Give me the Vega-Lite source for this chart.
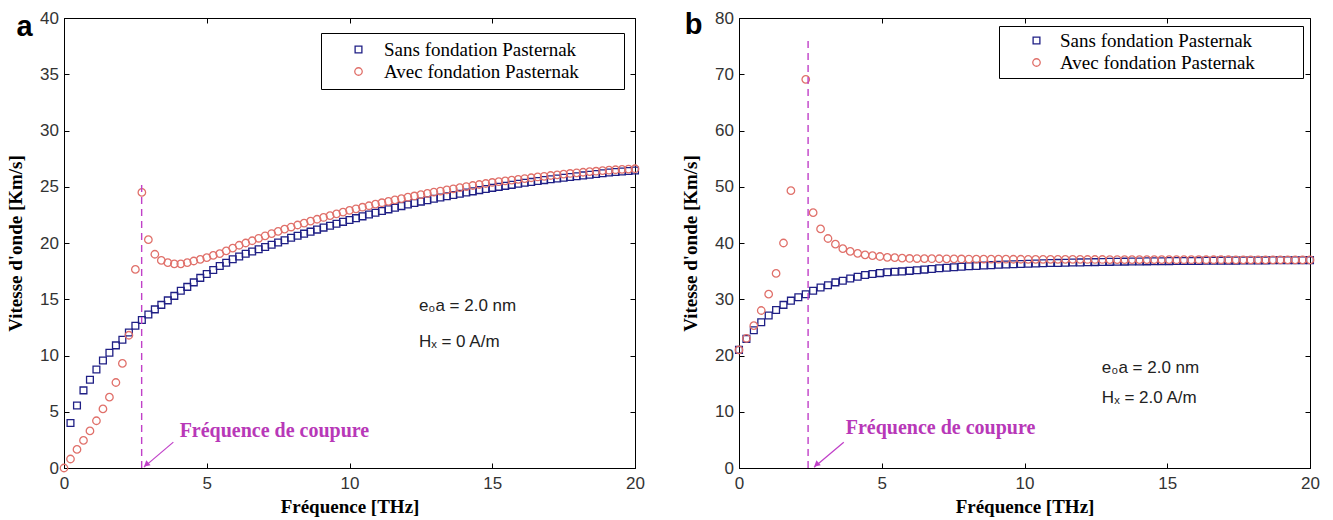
{
"$schema": "https://vega.github.io/schema/vega-lite/v6.json",
"background": "white",
"padding": {"left": 6, "top": 8, "right": 0, "bottom": 0},
"spacing": 36,
"resolve": {"scale": {"color": "independent", "shape": "independent", "size": "independent"}, "legend": {"color": "independent", "shape": "independent"}},
"config": {
  "view": {"stroke": "black", "strokeWidth": 1},
  "axis": {"grid": false, "domainColor": "black", "tickColor": "black", "tickSize": -5, "labelFont": "Liberation Sans", "labelFontSize": 17, "labelColor": "#333333", "titleFont": "Liberation Serif", "titleFontSize": 19, "titleFontWeight": "bold", "titleColor": "black", "labelFlush": false, "domainWidth": 1}
},
"datasets": {
"a": [
{"x":0.227,"v":4.0,"s":"Sans fondation Pasternak"},{"x":0.455,"v":5.55,"s":"Sans fondation Pasternak"},{"x":0.682,"v":6.9,"s":"Sans fondation Pasternak"},{"x":0.909,"v":7.85,"s":"Sans fondation Pasternak"},{"x":1.136,"v":8.75,"s":"Sans fondation Pasternak"},{"x":1.364,"v":9.55,"s":"Sans fondation Pasternak"},{"x":1.591,"v":10.25,"s":"Sans fondation Pasternak"},{"x":1.818,"v":10.9,"s":"Sans fondation Pasternak"},{"x":2.045,"v":11.4,"s":"Sans fondation Pasternak"},{"x":2.273,"v":12.05,"s":"Sans fondation Pasternak"},{"x":2.5,"v":12.65,"s":"Sans fondation Pasternak"},{"x":2.727,"v":13.15,"s":"Sans fondation Pasternak"},{"x":2.955,"v":13.65,"s":"Sans fondation Pasternak"},{"x":3.182,"v":14.1,"s":"Sans fondation Pasternak"},{"x":3.409,"v":14.5,"s":"Sans fondation Pasternak"},{"x":3.636,"v":14.9,"s":"Sans fondation Pasternak"},{"x":3.864,"v":15.3,"s":"Sans fondation Pasternak"},{"x":4.091,"v":15.75,"s":"Sans fondation Pasternak"},{"x":4.318,"v":16.1,"s":"Sans fondation Pasternak"},{"x":4.545,"v":16.5,"s":"Sans fondation Pasternak"},{"x":4.773,"v":16.9,"s":"Sans fondation Pasternak"},{"x":5.0,"v":17.25,"s":"Sans fondation Pasternak"},{"x":5.227,"v":17.6,"s":"Sans fondation Pasternak"},{"x":5.455,"v":17.95,"s":"Sans fondation Pasternak"},{"x":5.682,"v":18.25,"s":"Sans fondation Pasternak"},{"x":5.909,"v":18.55,"s":"Sans fondation Pasternak"},{"x":6.136,"v":18.8,"s":"Sans fondation Pasternak"},{"x":6.364,"v":19.05,"s":"Sans fondation Pasternak"},{"x":6.591,"v":19.25,"s":"Sans fondation Pasternak"},{"x":6.818,"v":19.45,"s":"Sans fondation Pasternak"},{"x":7.045,"v":19.64,"s":"Sans fondation Pasternak"},{"x":7.273,"v":19.85,"s":"Sans fondation Pasternak"},{"x":7.5,"v":20.05,"s":"Sans fondation Pasternak"},{"x":7.727,"v":20.25,"s":"Sans fondation Pasternak"},{"x":7.955,"v":20.46,"s":"Sans fondation Pasternak"},{"x":8.182,"v":20.65,"s":"Sans fondation Pasternak"},{"x":8.409,"v":20.83,"s":"Sans fondation Pasternak"},{"x":8.636,"v":21.01,"s":"Sans fondation Pasternak"},{"x":8.864,"v":21.19,"s":"Sans fondation Pasternak"},{"x":9.091,"v":21.37,"s":"Sans fondation Pasternak"},{"x":9.318,"v":21.54,"s":"Sans fondation Pasternak"},{"x":9.545,"v":21.71,"s":"Sans fondation Pasternak"},{"x":9.773,"v":21.88,"s":"Sans fondation Pasternak"},{"x":10.0,"v":22.05,"s":"Sans fondation Pasternak"},{"x":10.227,"v":22.21,"s":"Sans fondation Pasternak"},{"x":10.455,"v":22.37,"s":"Sans fondation Pasternak"},{"x":10.682,"v":22.53,"s":"Sans fondation Pasternak"},{"x":10.909,"v":22.69,"s":"Sans fondation Pasternak"},{"x":11.136,"v":22.84,"s":"Sans fondation Pasternak"},{"x":11.364,"v":22.99,"s":"Sans fondation Pasternak"},{"x":11.591,"v":23.13,"s":"Sans fondation Pasternak"},{"x":11.818,"v":23.28,"s":"Sans fondation Pasternak"},{"x":12.045,"v":23.42,"s":"Sans fondation Pasternak"},{"x":12.273,"v":23.55,"s":"Sans fondation Pasternak"},{"x":12.5,"v":23.68,"s":"Sans fondation Pasternak"},{"x":12.727,"v":23.8,"s":"Sans fondation Pasternak"},{"x":12.955,"v":23.93,"s":"Sans fondation Pasternak"},{"x":13.182,"v":24.04,"s":"Sans fondation Pasternak"},{"x":13.409,"v":24.15,"s":"Sans fondation Pasternak"},{"x":13.636,"v":24.27,"s":"Sans fondation Pasternak"},{"x":13.864,"v":24.38,"s":"Sans fondation Pasternak"},{"x":14.091,"v":24.49,"s":"Sans fondation Pasternak"},{"x":14.318,"v":24.59,"s":"Sans fondation Pasternak"},{"x":14.545,"v":24.7,"s":"Sans fondation Pasternak"},{"x":14.773,"v":24.8,"s":"Sans fondation Pasternak"},{"x":15.0,"v":24.9,"s":"Sans fondation Pasternak"},{"x":15.227,"v":24.99,"s":"Sans fondation Pasternak"},{"x":15.455,"v":25.08,"s":"Sans fondation Pasternak"},{"x":15.682,"v":25.17,"s":"Sans fondation Pasternak"},{"x":15.909,"v":25.26,"s":"Sans fondation Pasternak"},{"x":16.136,"v":25.35,"s":"Sans fondation Pasternak"},{"x":16.364,"v":25.43,"s":"Sans fondation Pasternak"},{"x":16.591,"v":25.51,"s":"Sans fondation Pasternak"},{"x":16.818,"v":25.59,"s":"Sans fondation Pasternak"},{"x":17.045,"v":25.66,"s":"Sans fondation Pasternak"},{"x":17.273,"v":25.73,"s":"Sans fondation Pasternak"},{"x":17.5,"v":25.8,"s":"Sans fondation Pasternak"},{"x":17.727,"v":25.87,"s":"Sans fondation Pasternak"},{"x":17.955,"v":25.94,"s":"Sans fondation Pasternak"},{"x":18.182,"v":26.01,"s":"Sans fondation Pasternak"},{"x":18.409,"v":26.07,"s":"Sans fondation Pasternak"},{"x":18.636,"v":26.14,"s":"Sans fondation Pasternak"},{"x":18.864,"v":26.2,"s":"Sans fondation Pasternak"},{"x":19.091,"v":26.27,"s":"Sans fondation Pasternak"},{"x":19.318,"v":26.31,"s":"Sans fondation Pasternak"},{"x":19.545,"v":26.36,"s":"Sans fondation Pasternak"},{"x":19.773,"v":26.4,"s":"Sans fondation Pasternak"},{"x":20.0,"v":26.45,"s":"Sans fondation Pasternak"},
{"x":0,"v":0,"s":"Avec fondation Pasternak"},{"x":0.227,"v":0.8,"s":"Avec fondation Pasternak"},{"x":0.455,"v":1.65,"s":"Avec fondation Pasternak"},{"x":0.682,"v":2.45,"s":"Avec fondation Pasternak"},{"x":0.909,"v":3.3,"s":"Avec fondation Pasternak"},{"x":1.136,"v":4.2,"s":"Avec fondation Pasternak"},{"x":1.364,"v":5.25,"s":"Avec fondation Pasternak"},{"x":1.591,"v":6.3,"s":"Avec fondation Pasternak"},{"x":1.818,"v":7.6,"s":"Avec fondation Pasternak"},{"x":2.045,"v":9.3,"s":"Avec fondation Pasternak"},{"x":2.273,"v":11.8,"s":"Avec fondation Pasternak"},{"x":2.5,"v":17.65,"s":"Avec fondation Pasternak"},{"x":2.727,"v":24.5,"s":"Avec fondation Pasternak"},{"x":2.955,"v":20.3,"s":"Avec fondation Pasternak"},{"x":3.182,"v":19.0,"s":"Avec fondation Pasternak"},{"x":3.409,"v":18.45,"s":"Avec fondation Pasternak"},{"x":3.636,"v":18.25,"s":"Avec fondation Pasternak"},{"x":3.864,"v":18.15,"s":"Avec fondation Pasternak"},{"x":4.091,"v":18.15,"s":"Avec fondation Pasternak"},{"x":4.318,"v":18.25,"s":"Avec fondation Pasternak"},{"x":4.545,"v":18.4,"s":"Avec fondation Pasternak"},{"x":4.773,"v":18.55,"s":"Avec fondation Pasternak"},{"x":5.0,"v":18.7,"s":"Avec fondation Pasternak"},{"x":5.227,"v":18.9,"s":"Avec fondation Pasternak"},{"x":5.455,"v":19.05,"s":"Avec fondation Pasternak"},{"x":5.682,"v":19.3,"s":"Avec fondation Pasternak"},{"x":5.909,"v":19.55,"s":"Avec fondation Pasternak"},{"x":6.136,"v":19.8,"s":"Avec fondation Pasternak"},{"x":6.364,"v":20.0,"s":"Avec fondation Pasternak"},{"x":6.591,"v":20.2,"s":"Avec fondation Pasternak"},{"x":6.818,"v":20.42,"s":"Avec fondation Pasternak"},{"x":7.045,"v":20.64,"s":"Avec fondation Pasternak"},{"x":7.273,"v":20.84,"s":"Avec fondation Pasternak"},{"x":7.5,"v":21.03,"s":"Avec fondation Pasternak"},{"x":7.727,"v":21.23,"s":"Avec fondation Pasternak"},{"x":7.955,"v":21.42,"s":"Avec fondation Pasternak"},{"x":8.182,"v":21.6,"s":"Avec fondation Pasternak"},{"x":8.409,"v":21.77,"s":"Avec fondation Pasternak"},{"x":8.636,"v":21.94,"s":"Avec fondation Pasternak"},{"x":8.864,"v":22.11,"s":"Avec fondation Pasternak"},{"x":9.091,"v":22.27,"s":"Avec fondation Pasternak"},{"x":9.318,"v":22.43,"s":"Avec fondation Pasternak"},{"x":9.545,"v":22.59,"s":"Avec fondation Pasternak"},{"x":9.773,"v":22.75,"s":"Avec fondation Pasternak"},{"x":10.0,"v":22.9,"s":"Avec fondation Pasternak"},{"x":10.227,"v":23.04,"s":"Avec fondation Pasternak"},{"x":10.455,"v":23.18,"s":"Avec fondation Pasternak"},{"x":10.682,"v":23.31,"s":"Avec fondation Pasternak"},{"x":10.909,"v":23.45,"s":"Avec fondation Pasternak"},{"x":11.136,"v":23.58,"s":"Avec fondation Pasternak"},{"x":11.364,"v":23.7,"s":"Avec fondation Pasternak"},{"x":11.591,"v":23.83,"s":"Avec fondation Pasternak"},{"x":11.818,"v":23.95,"s":"Avec fondation Pasternak"},{"x":12.045,"v":24.07,"s":"Avec fondation Pasternak"},{"x":12.273,"v":24.18,"s":"Avec fondation Pasternak"},{"x":12.5,"v":24.3,"s":"Avec fondation Pasternak"},{"x":12.727,"v":24.41,"s":"Avec fondation Pasternak"},{"x":12.955,"v":24.52,"s":"Avec fondation Pasternak"},{"x":13.182,"v":24.62,"s":"Avec fondation Pasternak"},{"x":13.409,"v":24.72,"s":"Avec fondation Pasternak"},{"x":13.636,"v":24.82,"s":"Avec fondation Pasternak"},{"x":13.864,"v":24.92,"s":"Avec fondation Pasternak"},{"x":14.091,"v":25.02,"s":"Avec fondation Pasternak"},{"x":14.318,"v":25.11,"s":"Avec fondation Pasternak"},{"x":14.545,"v":25.2,"s":"Avec fondation Pasternak"},{"x":14.773,"v":25.29,"s":"Avec fondation Pasternak"},{"x":15.0,"v":25.38,"s":"Avec fondation Pasternak"},{"x":15.227,"v":25.45,"s":"Avec fondation Pasternak"},{"x":15.455,"v":25.52,"s":"Avec fondation Pasternak"},{"x":15.682,"v":25.59,"s":"Avec fondation Pasternak"},{"x":15.909,"v":25.66,"s":"Avec fondation Pasternak"},{"x":16.136,"v":25.73,"s":"Avec fondation Pasternak"},{"x":16.364,"v":25.8,"s":"Avec fondation Pasternak"},{"x":16.591,"v":25.87,"s":"Avec fondation Pasternak"},{"x":16.818,"v":25.93,"s":"Avec fondation Pasternak"},{"x":17.045,"v":26.0,"s":"Avec fondation Pasternak"},{"x":17.273,"v":26.06,"s":"Avec fondation Pasternak"},{"x":17.5,"v":26.12,"s":"Avec fondation Pasternak"},{"x":17.727,"v":26.18,"s":"Avec fondation Pasternak"},{"x":17.955,"v":26.24,"s":"Avec fondation Pasternak"},{"x":18.182,"v":26.29,"s":"Avec fondation Pasternak"},{"x":18.409,"v":26.34,"s":"Avec fondation Pasternak"},{"x":18.636,"v":26.38,"s":"Avec fondation Pasternak"},{"x":18.864,"v":26.43,"s":"Avec fondation Pasternak"},{"x":19.091,"v":26.47,"s":"Avec fondation Pasternak"},{"x":19.318,"v":26.51,"s":"Avec fondation Pasternak"},{"x":19.545,"v":26.54,"s":"Avec fondation Pasternak"},{"x":19.773,"v":26.57,"s":"Avec fondation Pasternak"},{"x":20.0,"v":26.6,"s":"Avec fondation Pasternak"}
],
"b": [
{"x":0,"v":21.0,"s":"Sans fondation Pasternak"},{"x":0.26,"v":22.95,"s":"Sans fondation Pasternak"},{"x":0.519,"v":24.5,"s":"Sans fondation Pasternak"},{"x":0.779,"v":25.9,"s":"Sans fondation Pasternak"},{"x":1.039,"v":27.1,"s":"Sans fondation Pasternak"},{"x":1.299,"v":28.1,"s":"Sans fondation Pasternak"},{"x":1.558,"v":29.0,"s":"Sans fondation Pasternak"},{"x":1.818,"v":29.75,"s":"Sans fondation Pasternak"},{"x":2.078,"v":30.35,"s":"Sans fondation Pasternak"},{"x":2.338,"v":30.9,"s":"Sans fondation Pasternak"},{"x":2.597,"v":31.5,"s":"Sans fondation Pasternak"},{"x":2.857,"v":32.1,"s":"Sans fondation Pasternak"},{"x":3.117,"v":32.5,"s":"Sans fondation Pasternak"},{"x":3.377,"v":33.0,"s":"Sans fondation Pasternak"},{"x":3.636,"v":33.3,"s":"Sans fondation Pasternak"},{"x":3.896,"v":33.7,"s":"Sans fondation Pasternak"},{"x":4.156,"v":34.0,"s":"Sans fondation Pasternak"},{"x":4.416,"v":34.3,"s":"Sans fondation Pasternak"},{"x":4.675,"v":34.5,"s":"Sans fondation Pasternak"},{"x":4.935,"v":34.65,"s":"Sans fondation Pasternak"},{"x":5.195,"v":34.8,"s":"Sans fondation Pasternak"},{"x":5.455,"v":34.9,"s":"Sans fondation Pasternak"},{"x":5.714,"v":34.95,"s":"Sans fondation Pasternak"},{"x":5.974,"v":35.05,"s":"Sans fondation Pasternak"},{"x":6.234,"v":35.15,"s":"Sans fondation Pasternak"},{"x":6.494,"v":35.27,"s":"Sans fondation Pasternak"},{"x":6.753,"v":35.39,"s":"Sans fondation Pasternak"},{"x":7.013,"v":35.5,"s":"Sans fondation Pasternak"},{"x":7.273,"v":35.6,"s":"Sans fondation Pasternak"},{"x":7.532,"v":35.69,"s":"Sans fondation Pasternak"},{"x":7.792,"v":35.78,"s":"Sans fondation Pasternak"},{"x":8.052,"v":35.86,"s":"Sans fondation Pasternak"},{"x":8.312,"v":35.93,"s":"Sans fondation Pasternak"},{"x":8.571,"v":36.0,"s":"Sans fondation Pasternak"},{"x":8.831,"v":36.06,"s":"Sans fondation Pasternak"},{"x":9.091,"v":36.12,"s":"Sans fondation Pasternak"},{"x":9.351,"v":36.17,"s":"Sans fondation Pasternak"},{"x":9.61,"v":36.22,"s":"Sans fondation Pasternak"},{"x":9.87,"v":36.27,"s":"Sans fondation Pasternak"},{"x":10.13,"v":36.31,"s":"Sans fondation Pasternak"},{"x":10.39,"v":36.35,"s":"Sans fondation Pasternak"},{"x":10.649,"v":36.39,"s":"Sans fondation Pasternak"},{"x":10.909,"v":36.43,"s":"Sans fondation Pasternak"},{"x":11.169,"v":36.46,"s":"Sans fondation Pasternak"},{"x":11.429,"v":36.49,"s":"Sans fondation Pasternak"},{"x":11.688,"v":36.52,"s":"Sans fondation Pasternak"},{"x":11.948,"v":36.55,"s":"Sans fondation Pasternak"},{"x":12.208,"v":36.57,"s":"Sans fondation Pasternak"},{"x":12.468,"v":36.6,"s":"Sans fondation Pasternak"},{"x":12.727,"v":36.62,"s":"Sans fondation Pasternak"},{"x":12.987,"v":36.65,"s":"Sans fondation Pasternak"},{"x":13.247,"v":36.67,"s":"Sans fondation Pasternak"},{"x":13.506,"v":36.69,"s":"Sans fondation Pasternak"},{"x":13.766,"v":36.7,"s":"Sans fondation Pasternak"},{"x":14.026,"v":36.72,"s":"Sans fondation Pasternak"},{"x":14.286,"v":36.74,"s":"Sans fondation Pasternak"},{"x":14.545,"v":36.75,"s":"Sans fondation Pasternak"},{"x":14.805,"v":36.77,"s":"Sans fondation Pasternak"},{"x":15.065,"v":36.78,"s":"Sans fondation Pasternak"},{"x":15.325,"v":36.79,"s":"Sans fondation Pasternak"},{"x":15.584,"v":36.8,"s":"Sans fondation Pasternak"},{"x":15.844,"v":36.81,"s":"Sans fondation Pasternak"},{"x":16.104,"v":36.82,"s":"Sans fondation Pasternak"},{"x":16.364,"v":36.83,"s":"Sans fondation Pasternak"},{"x":16.623,"v":36.84,"s":"Sans fondation Pasternak"},{"x":16.883,"v":36.86,"s":"Sans fondation Pasternak"},{"x":17.143,"v":36.87,"s":"Sans fondation Pasternak"},{"x":17.403,"v":36.87,"s":"Sans fondation Pasternak"},{"x":17.662,"v":36.88,"s":"Sans fondation Pasternak"},{"x":17.922,"v":36.89,"s":"Sans fondation Pasternak"},{"x":18.182,"v":36.9,"s":"Sans fondation Pasternak"},{"x":18.442,"v":36.91,"s":"Sans fondation Pasternak"},{"x":18.701,"v":36.92,"s":"Sans fondation Pasternak"},{"x":18.961,"v":36.92,"s":"Sans fondation Pasternak"},{"x":19.221,"v":36.93,"s":"Sans fondation Pasternak"},{"x":19.481,"v":36.94,"s":"Sans fondation Pasternak"},{"x":19.74,"v":36.94,"s":"Sans fondation Pasternak"},{"x":20.0,"v":36.95,"s":"Sans fondation Pasternak"},
{"x":0,"v":21.0,"s":"Avec fondation Pasternak"},{"x":0.26,"v":23.05,"s":"Avec fondation Pasternak"},{"x":0.519,"v":25.3,"s":"Avec fondation Pasternak"},{"x":0.779,"v":28.0,"s":"Avec fondation Pasternak"},{"x":1.039,"v":30.9,"s":"Avec fondation Pasternak"},{"x":1.299,"v":34.6,"s":"Avec fondation Pasternak"},{"x":1.558,"v":40.0,"s":"Avec fondation Pasternak"},{"x":1.818,"v":49.3,"s":"Avec fondation Pasternak"},{"x":2.338,"v":69.1,"s":"Avec fondation Pasternak"},{"x":2.597,"v":45.4,"s":"Avec fondation Pasternak"},{"x":2.857,"v":42.5,"s":"Avec fondation Pasternak"},{"x":3.117,"v":40.8,"s":"Avec fondation Pasternak"},{"x":3.377,"v":39.8,"s":"Avec fondation Pasternak"},{"x":3.636,"v":39.0,"s":"Avec fondation Pasternak"},{"x":3.896,"v":38.5,"s":"Avec fondation Pasternak"},{"x":4.156,"v":38.15,"s":"Avec fondation Pasternak"},{"x":4.416,"v":37.9,"s":"Avec fondation Pasternak"},{"x":4.675,"v":37.75,"s":"Avec fondation Pasternak"},{"x":4.935,"v":37.6,"s":"Avec fondation Pasternak"},{"x":5.195,"v":37.45,"s":"Avec fondation Pasternak"},{"x":5.455,"v":37.4,"s":"Avec fondation Pasternak"},{"x":5.714,"v":37.3,"s":"Avec fondation Pasternak"},{"x":5.974,"v":37.25,"s":"Avec fondation Pasternak"},{"x":6.234,"v":37.24,"s":"Avec fondation Pasternak"},{"x":6.494,"v":37.23,"s":"Avec fondation Pasternak"},{"x":6.753,"v":37.21,"s":"Avec fondation Pasternak"},{"x":7.013,"v":37.2,"s":"Avec fondation Pasternak"},{"x":7.273,"v":37.19,"s":"Avec fondation Pasternak"},{"x":7.532,"v":37.18,"s":"Avec fondation Pasternak"},{"x":7.792,"v":37.16,"s":"Avec fondation Pasternak"},{"x":8.052,"v":37.15,"s":"Avec fondation Pasternak"},{"x":8.312,"v":37.14,"s":"Avec fondation Pasternak"},{"x":8.571,"v":37.13,"s":"Avec fondation Pasternak"},{"x":8.831,"v":37.13,"s":"Avec fondation Pasternak"},{"x":9.091,"v":37.12,"s":"Avec fondation Pasternak"},{"x":9.351,"v":37.12,"s":"Avec fondation Pasternak"},{"x":9.61,"v":37.11,"s":"Avec fondation Pasternak"},{"x":9.87,"v":37.11,"s":"Avec fondation Pasternak"},{"x":10.13,"v":37.1,"s":"Avec fondation Pasternak"},{"x":10.39,"v":37.1,"s":"Avec fondation Pasternak"},{"x":10.649,"v":37.09,"s":"Avec fondation Pasternak"},{"x":10.909,"v":37.09,"s":"Avec fondation Pasternak"},{"x":11.169,"v":37.09,"s":"Avec fondation Pasternak"},{"x":11.429,"v":37.08,"s":"Avec fondation Pasternak"},{"x":11.688,"v":37.08,"s":"Avec fondation Pasternak"},{"x":11.948,"v":37.08,"s":"Avec fondation Pasternak"},{"x":12.208,"v":37.07,"s":"Avec fondation Pasternak"},{"x":12.468,"v":37.07,"s":"Avec fondation Pasternak"},{"x":12.727,"v":37.07,"s":"Avec fondation Pasternak"},{"x":12.987,"v":37.06,"s":"Avec fondation Pasternak"},{"x":13.247,"v":37.06,"s":"Avec fondation Pasternak"},{"x":13.506,"v":37.06,"s":"Avec fondation Pasternak"},{"x":13.766,"v":37.05,"s":"Avec fondation Pasternak"},{"x":14.026,"v":37.05,"s":"Avec fondation Pasternak"},{"x":14.286,"v":37.05,"s":"Avec fondation Pasternak"},{"x":14.545,"v":37.04,"s":"Avec fondation Pasternak"},{"x":14.805,"v":37.04,"s":"Avec fondation Pasternak"},{"x":15.065,"v":37.04,"s":"Avec fondation Pasternak"},{"x":15.325,"v":37.03,"s":"Avec fondation Pasternak"},{"x":15.584,"v":37.03,"s":"Avec fondation Pasternak"},{"x":15.844,"v":37.03,"s":"Avec fondation Pasternak"},{"x":16.104,"v":37.03,"s":"Avec fondation Pasternak"},{"x":16.364,"v":37.02,"s":"Avec fondation Pasternak"},{"x":16.623,"v":37.02,"s":"Avec fondation Pasternak"},{"x":16.883,"v":37.02,"s":"Avec fondation Pasternak"},{"x":17.143,"v":37.02,"s":"Avec fondation Pasternak"},{"x":17.403,"v":37.01,"s":"Avec fondation Pasternak"},{"x":17.662,"v":37.01,"s":"Avec fondation Pasternak"},{"x":17.922,"v":37.01,"s":"Avec fondation Pasternak"},{"x":18.182,"v":37.01,"s":"Avec fondation Pasternak"},{"x":18.442,"v":37.0,"s":"Avec fondation Pasternak"},{"x":18.701,"v":37.0,"s":"Avec fondation Pasternak"},{"x":18.961,"v":37.0,"s":"Avec fondation Pasternak"},{"x":19.221,"v":37.0,"s":"Avec fondation Pasternak"},{"x":19.481,"v":37.0,"s":"Avec fondation Pasternak"},{"x":19.74,"v":37.0,"s":"Avec fondation Pasternak"},{"x":20.0,"v":37.0,"s":"Avec fondation Pasternak"}
]
},
"hconcat": [
{
  "width": 571, "height": 450,
  "layer": [
    {
      "data": {"name": "a"},
      "mark": {"type": "point", "filled": false, "strokeWidth": 1.3, "opacity": 1},
      "encoding": {
        "x": {"field": "x", "type": "quantitative", "scale": {"domain": [0, 20], "nice": false}, "axis": {"orient": "bottom", "values": [0, 5, 10, 15, 20], "title": "Fréquence [THz]", "labelPadding": 12, "titlePadding": 6}},
        "y": {"field": "v", "type": "quantitative", "scale": {"domain": [0, 40], "nice": false}, "axis": {"orient": "left", "values": [0, 5, 10, 15, 20, 25, 30, 35, 40], "title": "Vitesse d'onde [Km/s]", "labelPadding": 10.5, "titlePadding": 14}},
        "color": {"field": "s", "type": "nominal", "scale": {"domain": ["Sans fondation Pasternak", "Avec fondation Pasternak"], "range": ["#1f1f85", "#e0706a"]},
          "legend": {"orient": "none", "legendX": 257, "legendY": 15, "title": null, "fillColor": "white", "strokeColor": "black", "padding": 7, "labelFont": "Liberation Serif", "labelFontSize": 19, "labelColor": "black", "labelLimit": 400, "symbolSize": 46, "symbolStrokeWidth": 1.3, "symbolOffset": 21, "labelOffset": 16, "rowPadding": 2, "labelExpr": "datum.label + '\u00a0\u00a0\u00a0\u00a0\u00a0\u00a0\u00a0\u00a0\u200b'"}},
        "shape": {"field": "s", "type": "nominal", "scale": {"domain": ["Sans fondation Pasternak", "Avec fondation Pasternak"], "range": ["square", "circle"]},
          "legend": {"orient": "none", "legendX": 257, "legendY": 15, "title": null, "fillColor": "white", "strokeColor": "black", "padding": 7, "labelFont": "Liberation Serif", "labelFontSize": 19, "labelColor": "black", "labelLimit": 400, "symbolSize": 46, "symbolStrokeWidth": 1.3, "symbolOffset": 21, "labelOffset": 16, "rowPadding": 2, "labelExpr": "datum.label + '\u00a0\u00a0\u00a0\u00a0\u00a0\u00a0\u00a0\u00a0\u200b'"}},
        "size": {"field": "s", "type": "nominal", "scale": {"domain": ["Sans fondation Pasternak", "Avec fondation Pasternak"], "range": [46, 56]}, "legend": null}
      }
    },
    {
      "data": {"values": [{"x": 2.72, "v": 0, "v2": 25.5}]},
      "mark": {"type": "rule", "color": "#c040c8", "strokeDash": [7, 5], "strokeWidth": 1.4},
      "encoding": {
        "x": {"field": "x", "type": "quantitative", "axis": {"orient": "top", "values": [0, 5, 10, 15, 20], "labels": false, "title": null, "domain": false}},
        "y": {"field": "v", "type": "quantitative", "axis": {"orient": "right", "values": [0, 5, 10, 15, 20, 25, 30, 35, 40], "labels": false, "title": null, "domain": false}},
        "y2": {"field": "v2"}
      }
    },
    {
      "data": {"values": [{"x": 3.83, "v": 2.3, "x2": 2.8, "v2": 0.08}]},
      "mark": {"type": "rule", "color": "#c040c8", "strokeWidth": 1.2},
      "encoding": {
        "x": {"field": "x", "type": "quantitative", "axis": null},
        "y": {"field": "v", "type": "quantitative", "axis": null},
        "x2": {"field": "x2"},
        "y2": {"field": "v2"}
      }
    },
    {
      "data": {"values": [{"x": 2.88, "v": 0.3}]},
      "mark": {"type": "point", "shape": "triangle-up", "filled": true, "size": 45, "angle": 230, "color": "#c040c8", "opacity": 1},
      "encoding": {
        "x": {"field": "x", "type": "quantitative", "axis": null},
        "y": {"field": "v", "type": "quantitative", "axis": null}
      }
    },
    {
      "data": {"values": [{"x": 4.05, "v": 3.33, "t": "Fréquence de coupure"}]},
      "mark": {"type": "text", "align": "left", "baseline": "middle", "font": "Liberation Serif", "fontWeight": "bold", "fontSize": 20, "color": "#b838b8"},
      "encoding": {
        "x": {"field": "x", "type": "quantitative", "axis": null},
        "y": {"field": "v", "type": "quantitative", "axis": null},
        "text": {"field": "t"}
      }
    },
    {
      "data": {"values": [{"x": 12.43, "v": 14.44, "t": "e₀a = 2.0 nm"}, {"x": 12.43, "v": 11.2, "t": "Hₓ = 0 A/m"}]},
      "mark": {"type": "text", "align": "left", "baseline": "middle", "font": "Liberation Sans", "fontSize": 17, "color": "#222222"},
      "encoding": {
        "x": {"field": "x", "type": "quantitative", "axis": null},
        "y": {"field": "v", "type": "quantitative", "axis": null},
        "text": {"field": "t"}
      }
    },
    {
      "data": {"values": [{"x": -1.66, "v": 38.4, "t": "a"}]},
      "mark": {"type": "text", "align": "left", "baseline": "alphabetic", "font": "Liberation Sans", "fontWeight": "bold", "fontSize": 29, "color": "black"},
      "encoding": {
        "x": {"field": "x", "type": "quantitative", "axis": null},
        "y": {"field": "v", "type": "quantitative", "axis": null},
        "text": {"field": "t"}
      }
    }
  ]
},
{
  "width": 571, "height": 450,
  "layer": [
    {
      "data": {"name": "b"},
      "mark": {"type": "point", "filled": false, "strokeWidth": 1.3, "opacity": 1},
      "encoding": {
        "x": {"field": "x", "type": "quantitative", "scale": {"domain": [0, 20], "nice": false}, "axis": {"orient": "bottom", "values": [0, 5, 10, 15, 20], "title": "Fréquence [THz]", "labelPadding": 12, "titlePadding": 6}},
        "y": {"field": "v", "type": "quantitative", "scale": {"domain": [0, 80], "nice": false}, "axis": {"orient": "left", "values": [0, 10, 20, 30, 40, 50, 60, 70, 80], "title": "Vitesse d'onde [Km/s]", "labelPadding": 10.5, "titlePadding": 14}},
        "color": {"field": "s", "type": "nominal", "scale": {"domain": ["Sans fondation Pasternak", "Avec fondation Pasternak"], "range": ["#1f1f85", "#e0706a"]},
          "legend": {"orient": "none", "legendX": 260, "legendY": 8, "title": null, "fillColor": "white", "strokeColor": "black", "padding": 5, "labelFont": "Liberation Serif", "labelFontSize": 19, "labelColor": "black", "labelLimit": 400, "symbolSize": 46, "symbolStrokeWidth": 1.3, "symbolOffset": 23, "labelOffset": 14, "rowPadding": 2, "labelExpr": "datum.label + '\u00a0\u00a0\u00a0\u00a0\u00a0\u00a0\u00a0\u00a0\u00a0\u200b'"}},
        "shape": {"field": "s", "type": "nominal", "scale": {"domain": ["Sans fondation Pasternak", "Avec fondation Pasternak"], "range": ["square", "circle"]},
          "legend": {"orient": "none", "legendX": 260, "legendY": 8, "title": null, "fillColor": "white", "strokeColor": "black", "padding": 5, "labelFont": "Liberation Serif", "labelFontSize": 19, "labelColor": "black", "labelLimit": 400, "symbolSize": 46, "symbolStrokeWidth": 1.3, "symbolOffset": 23, "labelOffset": 14, "rowPadding": 2, "labelExpr": "datum.label + '\u00a0\u00a0\u00a0\u00a0\u00a0\u00a0\u00a0\u00a0\u00a0\u200b'"}},
        "size": {"field": "s", "type": "nominal", "scale": {"domain": ["Sans fondation Pasternak", "Avec fondation Pasternak"], "range": [46, 56]}, "legend": null}
      }
    },
    {
      "data": {"values": [{"x": 2.42, "v": 0, "v2": 76.8}]},
      "mark": {"type": "rule", "color": "#c040c8", "strokeDash": [7, 5], "strokeWidth": 1.4},
      "encoding": {
        "x": {"field": "x", "type": "quantitative", "axis": {"orient": "top", "values": [0, 5, 10, 15, 20], "labels": false, "title": null, "domain": false}},
        "y": {"field": "v", "type": "quantitative", "axis": {"orient": "right", "values": [0, 10, 20, 30, 40, 50, 60, 70, 80], "labels": false, "title": null, "domain": false}},
        "y2": {"field": "v2"}
      }
    },
    {
      "data": {"values": [{"x": 3.67, "v": 4.58, "x2": 2.63, "v2": 0.14}]},
      "mark": {"type": "rule", "color": "#c040c8", "strokeWidth": 1.2},
      "encoding": {
        "x": {"field": "x", "type": "quantitative", "axis": null},
        "y": {"field": "v", "type": "quantitative", "axis": null},
        "x2": {"field": "x2"},
        "y2": {"field": "v2"}
      }
    },
    {
      "data": {"values": [{"x": 2.71, "v": 0.6}]},
      "mark": {"type": "point", "shape": "triangle-up", "filled": true, "size": 45, "angle": 230, "color": "#c040c8", "opacity": 1},
      "encoding": {
        "x": {"field": "x", "type": "quantitative", "axis": null},
        "y": {"field": "v", "type": "quantitative", "axis": null}
      }
    },
    {
      "data": {"values": [{"x": 3.74, "v": 7.2, "t": "Fréquence de coupure"}]},
      "mark": {"type": "text", "align": "left", "baseline": "middle", "font": "Liberation Serif", "fontWeight": "bold", "fontSize": 20, "color": "#b838b8"},
      "encoding": {
        "x": {"field": "x", "type": "quantitative", "axis": null},
        "y": {"field": "v", "type": "quantitative", "axis": null},
        "text": {"field": "t"}
      }
    },
    {
      "data": {"values": [{"x": 12.71, "v": 17.7, "t": "e₀a = 2.0 nm"}, {"x": 12.71, "v": 12.5, "t": "Hₓ = 2.0 A/m"}]},
      "mark": {"type": "text", "align": "left", "baseline": "middle", "font": "Liberation Sans", "fontSize": 17, "color": "#222222"},
      "encoding": {
        "x": {"field": "x", "type": "quantitative", "axis": null},
        "y": {"field": "v", "type": "quantitative", "axis": null},
        "text": {"field": "t"}
      }
    },
    {
      "data": {"values": [{"x": -1.9, "v": 77.2, "t": "b"}]},
      "mark": {"type": "text", "align": "left", "baseline": "alphabetic", "font": "Liberation Sans", "fontWeight": "bold", "fontSize": 29, "color": "black"},
      "encoding": {
        "x": {"field": "x", "type": "quantitative", "axis": null},
        "y": {"field": "v", "type": "quantitative", "axis": null},
        "text": {"field": "t"}
      }
    }
  ]
}
]
}
